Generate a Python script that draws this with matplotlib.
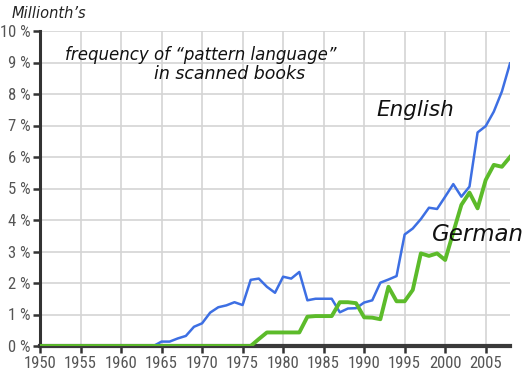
import matplotlib
matplotlib.use("Agg")
import matplotlib.pyplot as plt
from matplotlib import font_manager

years = list(range(1950, 2009))

english_known = {
    1964: 0.0, 1965: 0.14, 1966: 0.14, 1967: 0.24, 1968: 0.32, 1969: 0.61,
    1970: 0.72, 1971: 1.06, 1972: 1.23, 1973: 1.29, 1974: 1.39, 1975: 1.30,
    1976: 2.10, 1977: 2.14, 1978: 1.88, 1979: 1.69, 1980: 2.20, 1981: 2.14,
    1982: 2.35, 1983: 1.45, 1984: 1.50, 1985: 1.50, 1986: 1.50, 1987: 1.07,
    1988: 1.19, 1989: 1.20, 1990: 1.38, 1991: 1.45, 1992: 2.01, 1993: 2.11,
    1994: 2.22, 1995: 3.54, 1996: 3.73, 1997: 4.03, 1998: 4.39, 1999: 4.35,
    2000: 4.74, 2001: 5.14, 2002: 4.74, 2003: 5.06, 2004: 6.78, 2005: 6.98,
    2006: 7.44, 2007: 8.08, 2008: 8.97,
}
english = [english_known.get(y, 0.0) for y in years]

german_known = {
    1976: 0.0, 1977: 0.22, 1978: 0.43, 1979: 0.43, 1980: 0.43, 1981: 0.43,
    1982: 0.43, 1983: 0.93, 1984: 0.95, 1985: 0.95, 1986: 0.95, 1987: 1.39,
    1988: 1.39, 1989: 1.36, 1990: 0.91, 1991: 0.90, 1992: 0.85, 1993: 1.88,
    1994: 1.42, 1995: 1.42, 1996: 1.78, 1997: 2.94, 1998: 2.86, 1999: 2.94,
    2000: 2.73, 2001: 3.61, 2002: 4.48, 2003: 4.87, 2004: 4.37, 2005: 5.27,
    2006: 5.75, 2007: 5.69, 2008: 6.00,
}
german = [german_known.get(y, 0.0) for y in years]

x_ticks = [1950, 1955, 1960, 1965, 1970, 1975, 1980, 1985, 1990, 1995, 2000, 2005]
y_ticks = list(range(0, 11))
y_labels = [f"{v} %" for v in y_ticks]

names = {f.name for f in font_manager.fontManager.ttflist}
tick_font = "Liberation Sans"
tick_stretch = "normal"
for cand in ["Liberation Sans Narrow", "DejaVu Sans Condensed", "Roboto Condensed",
             "Open Sans Condensed"]:
    if cand in names:
        tick_font = cand
        break
text_font = "DejaVu Sans"

fig = plt.figure(figsize=(5.32, 3.77), dpi=100)
ax = fig.add_axes([40/532, 1 - 346/377, (510-40)/532, (346-31)/377])

ax.plot(years, english, color="#3d6fe3", lw=1.8, zorder=3, solid_joinstyle="round")
ax.plot(years, german, color="#5cbb2a", lw=2.8, zorder=4, solid_joinstyle="round")

ax.set_xlim(1950, 2008)
ax.set_ylim(0, 10)
ax.set_xticks(x_ticks)
ax.set_yticks(y_ticks)
ax.set_yticklabels(y_labels)
ax.grid(True, color="#d4d4d4", lw=1.2, zorder=0)
ax.set_axisbelow(True)

for s in ["top", "right"]:
    ax.spines[s].set_visible(False)
ax.spines["left"].set_color("#333333")
ax.spines["left"].set_linewidth(2.2)
ax.spines["bottom"].set_color("#3a3a3a")
ax.spines["bottom"].set_linewidth(3)
ax.spines["bottom"].set_zorder(2)
fs = 12 if tick_font != "Liberation Sans" else 10.5
ax.tick_params(axis="both", colors="#333333", labelcolor="#555555", length=5, width=1.8,
               labelsize=fs)
for lab in ax.get_xticklabels() + ax.get_yticklabels():
    lab.set_fontfamily(tick_font)
ax.tick_params(axis="x", pad=2)
ax.tick_params(axis="y", pad=1.5)

fig.text(12/532, 1 - 13/377, "Millionth\u2019s", fontsize=10.5, style="italic",
         family=text_font, color="#222222", va="center", ha="left")
fig.text(201/532, 1 - 55/377, "frequency of \u201cpattern language\u201d", fontsize=12,
         style="italic", family=text_font, color="#111111", ha="center", va="center")
fig.text(230/532, 1 - 74/377, "in scanned books", fontsize=12.5,
         style="italic", family=text_font, color="#111111", ha="center", va="center")
fig.text(376/532, 1 - 110/377, "English", fontsize=15.5, style="italic",
         family=text_font, color="#111111", ha="left", va="center")
fig.text(432/532, 1 - 235/377, "German", fontsize=16.5, style="italic",
         family=text_font, color="#111111", ha="left", va="center")

fig.savefig("out.png", dpi=100)
